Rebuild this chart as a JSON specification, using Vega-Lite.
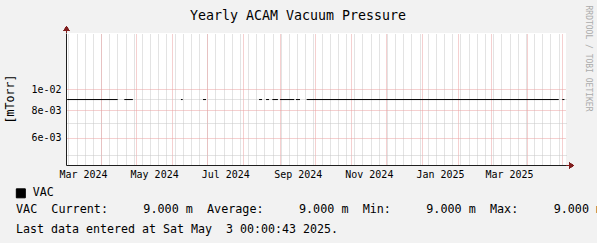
{
  "$schema": "https://vega.github.io/schema/vega-lite/v6.json",
  "width": 500,
  "height": 132,
  "autosize": {"type": "none"},
  "padding": {"left": 66, "top": 33, "right": 31, "bottom": 78},
  "background": "#F2F2F2",
  "config": {
    "view": {"fill": "#FFFFFF", "stroke": null},
    "font": "DejaVu Sans Mono",
    "axis": {"labelFont": "DejaVu Sans Mono", "titleFont": "DejaVu Sans Mono", "titleFontWeight": "normal", "titleColor": "#000000", "labelColor": "#000000", "ticks": false, "tickSize": 0, "titleLimit": 2000, "labelOverlap": false, "labelFlush": false, "labelBound": false}
  },
  "title": {
    "text": "Yearly ACAM Vacuum Pressure",
    "font": "DejaVu Sans Mono",
    "fontSize": 13.29,
    "fontWeight": "normal",
    "color": "#000000",
    "anchor": "middle",
    "baseline": "alphabetic",
    "offset": 0,
    "dy": 28,
    "dx": -18
  },
  "data": {
    "values": [
      {"start": "2024-03-03T00:00", "end": "2024-04-15T07:00", "v": 0.009, "series": "VAC"},
      {"start": "2024-04-20T23:00", "end": "2024-04-28T07:00", "v": 0.009, "series": "VAC"},
      {"start": "2024-06-08T12:00", "end": "2024-06-10T00:00", "v": 0.009, "series": "VAC"},
      {"start": "2024-06-27T10:00", "end": "2024-06-29T23:00", "v": 0.009, "series": "VAC"},
      {"start": "2024-08-14T10:00", "end": "2024-08-17T00:00", "v": 0.009, "series": "VAC"},
      {"start": "2024-08-20T10:00", "end": "2024-08-23T00:00", "v": 0.009, "series": "VAC"},
      {"start": "2024-08-25T19:00", "end": "2024-08-30T14:00", "v": 0.009, "series": "VAC"},
      {"start": "2024-09-01T10:00", "end": "2024-09-13T14:00", "v": 0.009, "series": "VAC"},
      {"start": "2024-09-15T00:00", "end": "2024-09-18T12:00", "v": 0.009, "series": "VAC"},
      {"start": "2024-09-24T05:00", "end": "2025-04-28T05:00", "v": 0.009, "series": "VAC"},
      {"start": "2025-05-01T05:00", "end": "2025-05-03T02:00", "v": 0.009, "series": "VAC"}
    ]
  },
  "layer": [
    {
      "mark": {"type": "rule", "opacity": 0},
      "encoding": {
        "x": {
          "field": "start", "type": "temporal",
          "scale": {"domain": [{"year": 2024, "month": 3, "date": 2}, {"year": 2025, "month": 5, "date": 4, "hours": 9, "minutes": 50}], "nice": false},
          "axis": {
            "orient": "top", "grid": true, "gridColor": "#C6C6C6", "gridDash": [1, 1], "gridWidth": 1,
            "labels": false, "domain": false, "title": null,
            "values": [
              {"year": 2024, "month": 3, "date": 4}, {"year": 2024, "month": 3, "date": 11}, {"year": 2024, "month": 3, "date": 18}, {"year": 2024, "month": 3, "date": 25},
              {"year": 2024, "month": 4, "date": 1}, {"year": 2024, "month": 4, "date": 8}, {"year": 2024, "month": 4, "date": 15}, {"year": 2024, "month": 4, "date": 22}, {"year": 2024, "month": 4, "date": 29},
              {"year": 2024, "month": 5, "date": 6}, {"year": 2024, "month": 5, "date": 13}, {"year": 2024, "month": 5, "date": 20}, {"year": 2024, "month": 5, "date": 27},
              {"year": 2024, "month": 6, "date": 3}, {"year": 2024, "month": 6, "date": 10}, {"year": 2024, "month": 6, "date": 17}, {"year": 2024, "month": 6, "date": 24},
              {"year": 2024, "month": 7, "date": 1}, {"year": 2024, "month": 7, "date": 8}, {"year": 2024, "month": 7, "date": 15}, {"year": 2024, "month": 7, "date": 22}, {"year": 2024, "month": 7, "date": 29},
              {"year": 2024, "month": 8, "date": 5}, {"year": 2024, "month": 8, "date": 12}, {"year": 2024, "month": 8, "date": 19}, {"year": 2024, "month": 8, "date": 26},
              {"year": 2024, "month": 9, "date": 2}, {"year": 2024, "month": 9, "date": 9}, {"year": 2024, "month": 9, "date": 16}, {"year": 2024, "month": 9, "date": 23}, {"year": 2024, "month": 9, "date": 30},
              {"year": 2024, "month": 10, "date": 7}, {"year": 2024, "month": 10, "date": 14}, {"year": 2024, "month": 10, "date": 21}, {"year": 2024, "month": 10, "date": 28},
              {"year": 2024, "month": 11, "date": 4}, {"year": 2024, "month": 11, "date": 11}, {"year": 2024, "month": 11, "date": 18}, {"year": 2024, "month": 11, "date": 25},
              {"year": 2024, "month": 12, "date": 2}, {"year": 2024, "month": 12, "date": 9}, {"year": 2024, "month": 12, "date": 16}, {"year": 2024, "month": 12, "date": 23}, {"year": 2024, "month": 12, "date": 30},
              {"year": 2025, "month": 1, "date": 6}, {"year": 2025, "month": 1, "date": 13}, {"year": 2025, "month": 1, "date": 20}, {"year": 2025, "month": 1, "date": 27},
              {"year": 2025, "month": 2, "date": 3}, {"year": 2025, "month": 2, "date": 10}, {"year": 2025, "month": 2, "date": 17}, {"year": 2025, "month": 2, "date": 24},
              {"year": 2025, "month": 3, "date": 3}, {"year": 2025, "month": 3, "date": 10}, {"year": 2025, "month": 3, "date": 17}, {"year": 2025, "month": 3, "date": 24}, {"year": 2025, "month": 3, "date": 31},
              {"year": 2025, "month": 4, "date": 7}, {"year": 2025, "month": 4, "date": 14}, {"year": 2025, "month": 4, "date": 21}, {"year": 2025, "month": 4, "date": 28}
            ]
          }
        },
        "x2": {"field": "end"},
        "y": {
          "field": "v", "type": "quantitative",
          "scale": {"type": "log", "domain": [0.0045063, 0.017995], "nice": false, "zero": false},
          "axis": {
            "orient": "right", "grid": true, "gridColor": "#C6C6C6", "gridDash": [1, 1], "gridWidth": 1,
            "labels": false, "domain": false, "values": [0.005, 0.007, 0.009],
            "title": "RRDTOOL / TOBI OETIKER", "titleAngle": 90, "titleX": 19, "titleY": -28,
            "titleAlign": "left", "titleBaseline": "alphabetic", "titleFontSize": 8, "titleColor": "#ABABAB"
          }
        }
      }
    },
    {
      "mark": {"type": "rule", "strokeWidth": 1, "yOffset": 0.5},
      "encoding": {
        "x": {
          "field": "start", "type": "temporal",
          "axis": {
            "orient": "top", "grid": true, "gridColor": "#EBA0A0", "gridDash": [1, 1], "gridWidth": 1,
            "labels": false, "domain": false,
            "values": [
              {"year": 2024, "month": 4, "date": 1}, {"year": 2024, "month": 5, "date": 1}, {"year": 2024, "month": 6, "date": 1}, {"year": 2024, "month": 7, "date": 1},
              {"year": 2024, "month": 8, "date": 1}, {"year": 2024, "month": 9, "date": 1}, {"year": 2024, "month": 10, "date": 1}, {"year": 2024, "month": 11, "date": 1},
              {"year": 2024, "month": 12, "date": 1}, {"year": 2025, "month": 1, "date": 1}, {"year": 2025, "month": 2, "date": 1}, {"year": 2025, "month": 3, "date": 1},
              {"year": 2025, "month": 4, "date": 1}, {"year": 2025, "month": 5, "date": 1}
            ],
            "title": "Last data entered at Sat May\u00a0\u00a03 00:00:43 2025.",
            "titleFontSize": 11.63, "titleAnchor": "start", "titleAlign": "left", "titleBaseline": "alphabetic",
            "titleX": -50.5, "titleY": 199.5, "titleAngle": 0
          }
        },
        "x2": {"field": "end"},
        "y": {
          "field": "v", "type": "quantitative",
          "axis": {
            "orient": "left", "grid": true, "gridColor": "#EBA0A0", "gridDash": [1, 1], "gridWidth": 1,
            "values": [0.006, 0.008, 0.01],
            "labelExpr": "replace(format(datum.value, '.0e'), 'e-', 'e-0')",
            "labelFontSize": 9.97, "labelPadding": 5,
            "domain": true, "domainColor": "#1F1F1F", "domainWidth": 1,
            "title": "[mTorr]", "titleFontSize": 11.63, "titleAngle": -90, "titleAlign": "center",
            "titleBaseline": "alphabetic", "titleX": -52.5, "titleY": 65.5
          }
        },
        "color": {
          "field": "series", "type": "nominal",
          "scale": {"domain": ["VAC"], "range": ["#000000"]},
          "legend": {
            "title": null, "orient": "none", "legendX": -51, "legendY": 154.5,
            "symbolType": "square", "symbolSize": 81, "symbolStrokeWidth": 1,
            "labelFont": "DejaVu Sans Mono", "labelFontSize": 11.63, "labelColor": "#000000", "labelOffset": 6,
            "padding": 0, "rowPadding": 0, "symbolOffset": 0,
            "encode": {"symbols": {"update": {"fill": {"value": "#000000"}, "stroke": {"value": "#000000"}, "opacity": {"value": 1}}}}
          }
        }
      }
    },
    {
      "mark": {"type": "point", "shape": "M0,0L3,0L3,-2.5L8,0.5L3,3.5L3,1L0,1Z", "size": 4, "filled": true, "color": "#801F1F", "opacity": 1, "strokeWidth": 0},
      "encoding": {
        "x": {
          "datum": {"year": 2025, "month": 5, "date": 4, "hours": 9, "minutes": 50}, "type": "temporal",
          "axis": {
            "orient": "bottom", "grid": false, "domain": true, "domainColor": "#1F1F1F", "domainWidth": 1,
            "labelFontSize": 9.97, "labelPadding": 4, "labelExpr": "timeFormat(datum.value, '%b %Y')",
            "values": [
              {"year": 2024, "month": 3, "date": 16, "hours": 12}, {"year": 2024, "month": 5, "date": 16, "hours": 12}, {"year": 2024, "month": 7, "date": 16, "hours": 12},
              {"year": 2024, "month": 9, "date": 16, "hours": 12}, {"year": 2024, "month": 11, "date": 16, "hours": 12}, {"year": 2025, "month": 1, "date": 16, "hours": 12},
              {"year": 2025, "month": 3, "date": 16, "hours": 12}
            ],
            "title": "VAC\u00a0\u00a0Current:\u00a0\u00a0\u00a0\u00a0\u00a09.000\u00a0m\u00a0\u00a0Average:\u00a0\u00a0\u00a0\u00a0\u00a09.000\u00a0m\u00a0\u00a0Min:\u00a0\u00a0\u00a0\u00a0\u00a09.000\u00a0m\u00a0\u00a0Max:\u00a0\u00a0\u00a0\u00a0\u00a09.000\u00a0m",
            "titleFontSize": 11.76, "titleAnchor": "start", "titleAlign": "left", "titleBaseline": "alphabetic",
            "titleX": -50.5, "titleY": 47.5
          }
        },
        "y": {"datum": 0.0045063, "type": "quantitative", "axis": null}
      }
    },
    {
      "mark": {"type": "point", "shape": "M0,0L1,0L1,-2L3.5,-2L0.5,-7L-2.5,-2L0,-2Z", "size": 4, "filled": true, "color": "#801F1F", "opacity": 1, "strokeWidth": 0},
      "encoding": {
        "x": {"datum": {"year": 2024, "month": 3, "date": 2}, "type": "temporal", "axis": null},
        "y": {"datum": 0.017995, "type": "quantitative", "axis": null}
      }
    }
  ],
  "resolve": {"axis": {"x": "independent", "y": "independent"}}
}
